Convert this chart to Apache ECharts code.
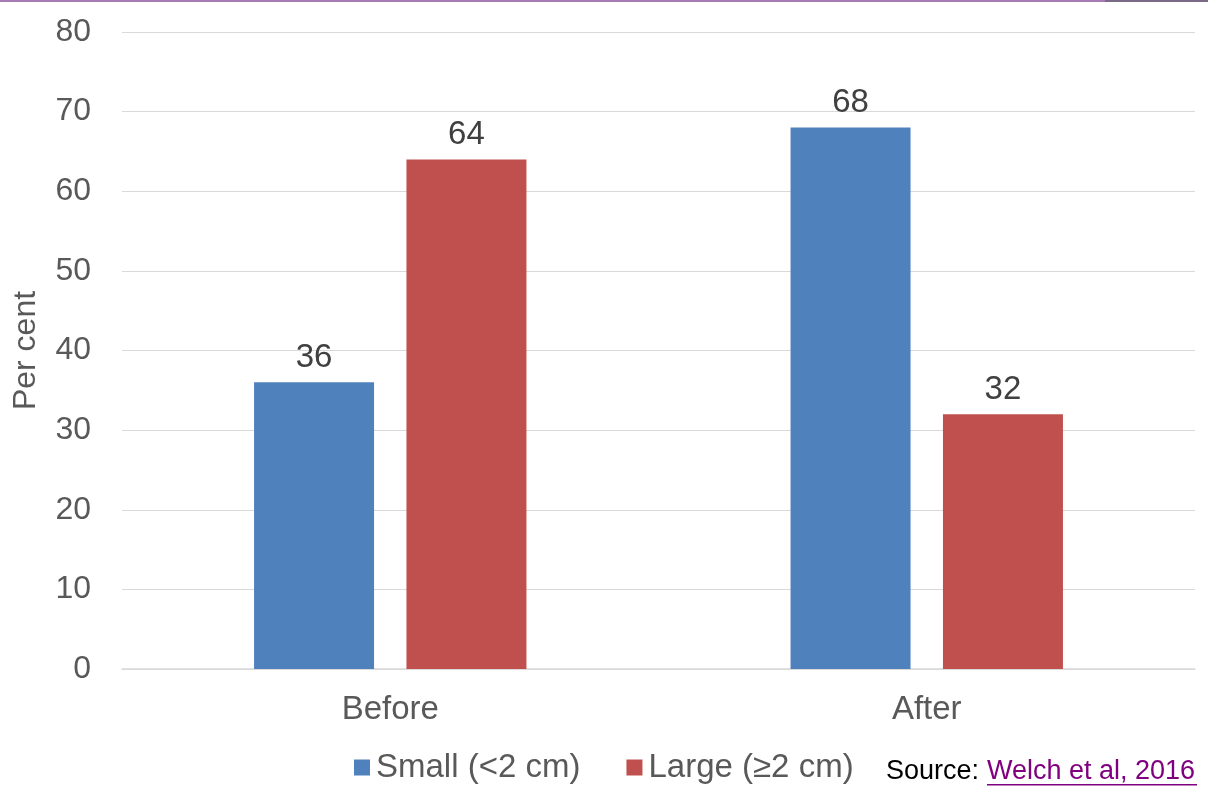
<!DOCTYPE html>
<html><head><meta charset="utf-8">
<script src="https://cdn.jsdelivr.net/npm/echarts@6/dist/echarts.min.js"></script>
<style>html,body{margin:0;padding:0;background:#fff;}#c{width:1208px;height:788px;}</style>
</head><body><div id="c"></div>
<script>
const categories = ['Before', 'After'];
const smallValues = [36, 68];
const largeValues = [64, 32];
const seriesNames = ['Small (<2 cm)', 'Large (≥2 cm)'];
const yTicks = [0, 10, 20, 30, 40, 50, 60, 70, 80];

const font = '"Liberation Sans", Arial, Helvetica, sans-serif';
const chart = echarts.init(document.getElementById('c'));
chart.setOption({
  animation: false,
  textStyle: { fontFamily: font },
  grid: { left: 122, right: 13, top: 32, bottom: 119 },
  legend: {
    data: seriesNames,
    left: 349, top: 746,
    itemWidth: 16, itemHeight: 16, itemGap: 46,
    icon: 'rect',
    textStyle: { fontSize: 33, color: '#595959', fontFamily: font, padding: [0, 0, 0, 1] }
  },
  xAxis: {
    type: 'category', data: categories,
    axisLine: { lineStyle: { color: '#d9d9d9', width: 1.5 } },
    axisTick: { show: false },
    axisLabel: { fontSize: 33, color: '#595959', margin: 24, fontFamily: font }
  },
  yAxis: {
    type: 'value', min: yTicks[0], max: yTicks[yTicks.length - 1], interval: 10,
    name: 'Per cent', nameLocation: 'middle', nameGap: 80, nameRotate: 90,
    nameTextStyle: { fontSize: 32, color: '#595959', fontFamily: font },
    axisLine: { show: false }, axisTick: { show: false },
    axisLabel: { fontSize: 32, color: '#595959', margin: 31, fontFamily: font },
    splitLine: { lineStyle: { color: '#d9d9d9', width: 1.2 } }
  },
  series: [
    { name: seriesNames[0], type: 'bar', data: smallValues, barWidth: 120, barGap: '27%',
      itemStyle: { color: '#4f81bd' },
      label: { show: true, position: 'top', distance: 8, fontSize: 33, color: '#404040', fontFamily: font } },
    { name: seriesNames[1], type: 'bar', data: largeValues, barWidth: 120,
      itemStyle: { color: '#c0504d' },
      label: { show: true, position: 'top', distance: 8, fontSize: 33, color: '#404040', fontFamily: font } }
  ],
  graphic: [
    { type: 'rect', left: 0, top: 0, shape: { width: 1208, height: 2 }, style: { fill: '#a67bb5' } },
    { type: 'rect', left: 1105, top: 0, shape: { width: 103, height: 2 }, style: { fill: '#7a6a85' } },
    { type: 'text', left: 886, top: 758, style: { text: 'Source: ', fontSize: 27, fill: '#000', fontFamily: font } },
    { type: 'text', left: 987, top: 758, style: { text: 'Welch et al, 2016', fontSize: 27, fill: '#800080', fontFamily: font } },
    { type: 'rect', left: 987, top: 784, shape: { width: 210, height: 1.5 }, style: { fill: '#800080' } }
  ]
});
</script></body></html>
